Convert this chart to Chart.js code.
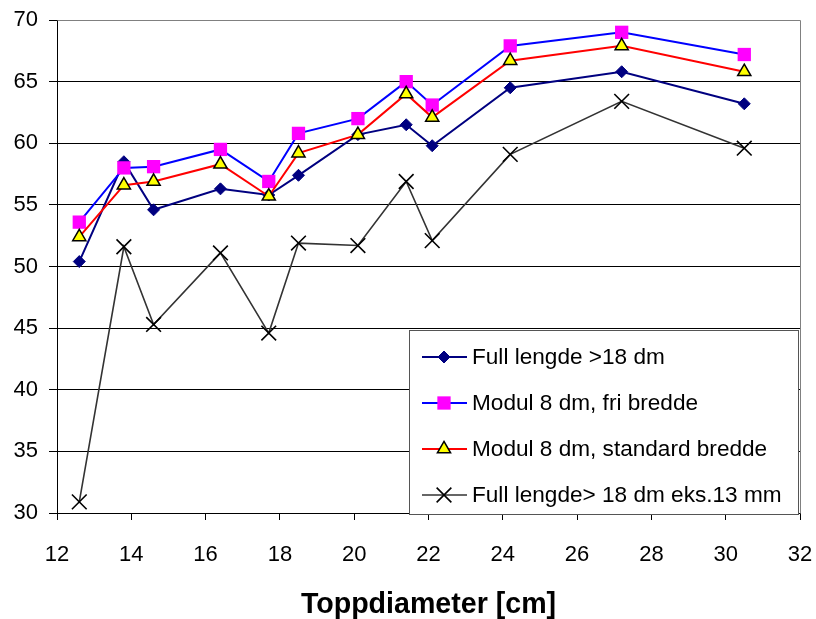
<!DOCTYPE html>
<html>
<head>
<meta charset="utf-8">
<script src="https://cdn.jsdelivr.net/npm/chart.js@4.4.0/dist/chart.umd.min.js"></script>
<style>
  html, body { margin: 0; padding: 0; background: #fff; }
</style>
</head>
<body>
<canvas id="topChart" width="816" height="619"></canvas>
<script>
// toppdiameter (cm) and utbytte for each sortering
const diameters = [12.6, 13.8, 14.6, 16.4, 17.7, 18.5, 20.1, 21.4, 22.1, 24.2, 27.2, 30.5];
const fullLength = [50.4, 58.5, 54.6, 56.3, 55.8, 57.4, 60.7, 61.5, 59.8, 64.5, 65.8, 63.2];
const modulFree = [53.6, 58.0, 58.1, 59.5, 56.9, 60.8, 62.0, 65.0, 63.1, 67.9, 69.0, 67.2];
const modulStandard = [52.4, 56.6, 56.9, 58.3, 55.7, 59.2, 60.7, 64.0, 62.1, 66.7, 67.9, 65.8];
const fullLength13 = [30.9, 51.6, 45.3, 51.1, 44.6, 51.9, 51.7, 56.9, 52.1, 59.1, 63.4, 59.6];

const seriesNames = [
    'Full lengde >18 dm',
    'Modul 8 dm, fri bredde',
    'Modul 8 dm, standard bredde',
    'Full lengde> 18 dm eks.13 mm'
];
const xTicks = [12, 14, 16, 18, 20, 22, 24, 26, 28, 30, 32];
const yTicks = [30, 35, 40, 45, 50, 55, 60, 65, 70];
const xTitle = 'Toppdiameter [cm]';

const FONT = "'Liberation Sans', Arial, sans-serif";
Chart.defaults.font.family = FONT;
Chart.defaults.color = '#000';

const toPoints = (values) => values.map((v, i) => ({ x: diameters[i], y: v }));

const styles = [
    { line: '#000080', fill: '#000080', edge: '#000080', pointStyle: 'rectRot', radius: 6, edgeWidth: 1, width: 2 },
    { line: '#0000ff', fill: '#ff00ff', edge: '#ff00ff', pointStyle: 'rect', radius: 9.4, edgeWidth: 0, width: 2 },
    { line: '#ff0000', fill: '#ffff00', edge: '#000000', pointStyle: 'triangle', radius: 7.6, edgeWidth: 1.5, width: 2 },
    { line: '#333333', fill: '#000000', edge: '#000000', pointStyle: 'crossRot', radius: 10.4, edgeWidth: 1.6, width: 1.6 }
];
const allValues = [fullLength, modulFree, modulStandard, fullLength13];

const datasets = allValues.map((values, i) => ({
    label: seriesNames[i],
    data: toPoints(values),
    borderColor: styles[i].line,
    borderWidth: styles[i].width,
    backgroundColor: styles[i].fill,
    pointStyle: styles[i].pointStyle,
    pointRadius: styles[i].radius,
    pointHoverRadius: styles[i].radius,
    pointBackgroundColor: styles[i].fill,
    pointBorderColor: styles[i].edge,
    pointBorderWidth: styles[i].edgeWidth,
    tension: 0,
    fill: false,
    order: 4 - i
}));

// gray frame on the top and right side of the plot
const frame = {
    id: 'frame',
    beforeDatasetsDraw(chart) {
        const { ctx, chartArea: a } = chart;
        ctx.save();
        ctx.strokeStyle = '#808080';
        ctx.lineWidth = 1;
        ctx.beginPath();
        ctx.moveTo(Math.round(a.left) + 0.5, Math.round(a.top) + 0.5);
        ctx.lineTo(Math.round(a.right) + 0.5, Math.round(a.top) + 0.5);
        ctx.lineTo(Math.round(a.right) + 0.5, Math.round(a.bottom) + 0.5);
        ctx.stroke();
        ctx.restore();
    }
};

// boxed legend sitting in the lower right corner of the plot
const legendBox = {
    id: 'legendBox',
    afterDatasetsDraw(chart) {
        const { ctx, chartArea: a } = chart;
        const w = 389, h = 184;
        const x0 = Math.round(a.right) - 391, y0 = Math.round(a.bottom) - 183;
        ctx.save();
        ctx.fillStyle = '#fff';
        ctx.fillRect(x0, y0, w, h);
        ctx.strokeStyle = '#555';
        ctx.lineWidth = 1;
        ctx.strokeRect(x0 + 0.5, y0 + 0.5, w, h);
        ctx.font = '22.6px ' + FONT;
        ctx.textBaseline = 'middle';
        ctx.textAlign = 'left';
        chart.data.datasets.forEach((ds, i) => {
            const s = styles[i];
            const cy = y0 + 27 + i * 46;
            ctx.strokeStyle = s.line;
            ctx.lineWidth = s.width;
            ctx.beginPath();
            ctx.moveTo(x0 + 13, cy);
            ctx.lineTo(x0 + 58, cy);
            ctx.stroke();
            ctx.fillStyle = s.fill;
            ctx.strokeStyle = s.edge;
            ctx.lineWidth = s.edgeWidth;
            Chart.helpers.drawPoint(ctx, {
                pointStyle: s.pointStyle,
                radius: s.radius,
                rotation: 0,
                borderWidth: s.edgeWidth
            }, x0 + 35, cy);
            ctx.fillStyle = '#000';
            ctx.fillText(ds.label, x0 + 63, cy + 1);
        });
        ctx.restore();
    }
};

new Chart(document.getElementById('topChart'), {
    type: 'line',
    data: { datasets: datasets },
    plugins: [frame, legendBox],
    options: {
        responsive: false,
        animation: false,
        devicePixelRatio: 1,
        layout: { padding: { top: 20, right: 16, left: 0, bottom: 0 } },
        plugins: {
            legend: { display: false },
            tooltip: { enabled: false }
        },
        scales: {
            x: {
                type: 'linear',
                min: xTicks[0],
                max: xTicks[xTicks.length - 1],
                afterBuildTicks: (scale) => { scale.ticks = xTicks.map(v => ({ value: v })); },
                afterFit: (scale) => {
                    scale.height = 106;
                    scale.paddingLeft = 0;
                    scale.paddingRight = 0;
                },
                grid: { drawOnChartArea: false, drawTicks: true, tickLength: 7, tickColor: '#000' },
                border: { display: true, color: '#000', width: 1 },
                ticks: { font: { size: 22 }, color: '#000', padding: 22, maxRotation: 0 },
                title: {
                    display: true,
                    text: xTitle,
                    font: { size: 28.6, weight: 'bold', lineHeight: 1 },
                    color: '#000',
                    padding: { top: 0, bottom: 0 }
                }
            },
            y: {
                type: 'linear',
                min: yTicks[0],
                max: yTicks[yTicks.length - 1],
                afterBuildTicks: (scale) => { scale.ticks = yTicks.map(v => ({ value: v })); },
                afterFit: (scale) => {
                    scale.width = 57;
                    scale.paddingTop = 0;
                    scale.paddingBottom = 0;
                },
                grid: {
                    color: (c) => (c.tick && c.tick.value === 70 ? '#808080' : '#000'),
                    tickColor: '#000',
                    tickLength: 8,
                    lineWidth: 1
                },
                border: { display: true, color: '#000', width: 1 },
                ticks: { font: { size: 22 }, color: '#000', padding: 11 }
            }
        }
    }
});
</script>
</body>
</html>
